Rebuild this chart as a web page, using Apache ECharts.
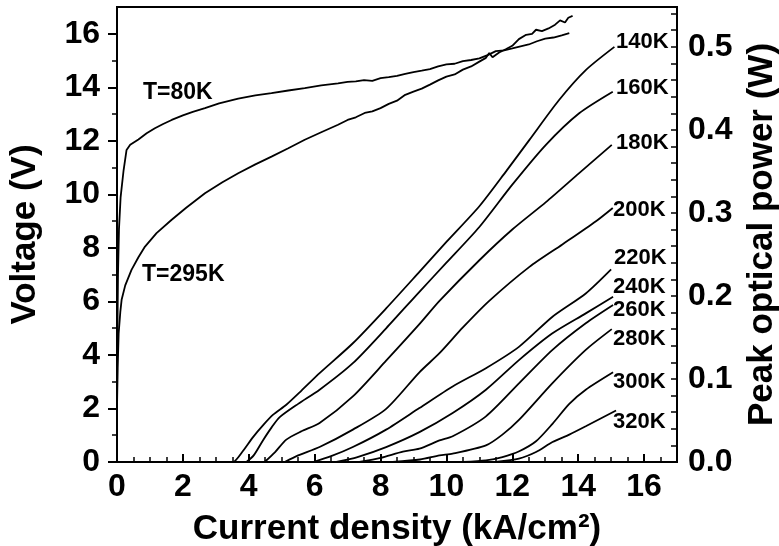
<!DOCTYPE html>
<html><head><meta charset="utf-8">
<script src="https://cdn.jsdelivr.net/npm/echarts@6/dist/echarts.min.js"></script>
<style>html,body{margin:0;padding:0;background:#fff}#c{width:779px;height:546px}</style>
</head><body><div id="c"></div>
<script>
// ---- axis ranges and ticks ----
const xMin = 0, xMax = 17;
const vMin = 0, vMax = 17;
const pMin = 0, pMax = 0.548;
const xLabelTicks = [0, 2, 4, 6, 8, 10, 12, 14, 16];
const xMinorTicks = [0.5, 1, 1.5, 2.5, 3, 3.5, 4.5, 5, 5.5, 6.5, 7, 7.5, 8.5, 9, 9.5, 10.5, 11, 11.5, 12.5, 13, 13.5, 14.5, 15, 15.5, 16.5];
const vLabelTicks = [0, 2, 4, 6, 8, 10, 12, 14, 16];
const vMinorTicks = [1, 3, 5, 7, 9, 11, 13, 15];
const pLabelTicks = [0, 0.1, 0.2, 0.3, 0.4, 0.5];
const pTicks = [0, 0.02, 0.04, 0.06, 0.08, 0.1, 0.12, 0.14, 0.16, 0.18, 0.2, 0.22, 0.24, 0.26, 0.28, 0.3, 0.32, 0.34, 0.36, 0.38, 0.4, 0.42, 0.44, 0.46, 0.48, 0.5, 0.52, 0.54];

// ---- voltage curves (left axis, V) ----
const v80K = [[0,2.0],[0.01,4.5],[0.03,7.0],[0.06,8.7],[0.11,9.9],[0.2,10.9],[0.29,11.66],[0.4,11.85],[0.65,12.05],[0.9,12.28],[1.15,12.47],[1.4,12.63],[1.66,12.78],[2.0,12.95],[2.3,13.08],[2.67,13.22],[3.1,13.4],[3.68,13.58],[4.2,13.7],[4.69,13.78],[5.2,13.88],[5.7,13.97],[6.2,14.07],[6.71,14.15],[7.0,14.2],[7.25,14.22],[7.5,14.27],[7.75,14.24],[8.0,14.34],[8.25,14.38],[8.5,14.43],[8.75,14.5],[9.0,14.57],[9.25,14.62],[9.5,14.68],[9.75,14.78],[10.0,14.86],[10.25,14.88],[10.5,14.98],[10.75,15.02],[11.0,15.08],[11.25,15.2],[11.5,15.35],[11.75,15.38],[12.0,15.45],[12.25,15.53],[12.5,15.6],[12.75,15.72],[13.0,15.82],[13.25,15.86],[13.5,15.94],[13.73,16.02]];
const v295K = [[0,2.0],[0.02,3.5],[0.05,4.8],[0.1,5.6],[0.14,6.06],[0.25,6.6],[0.44,7.18],[0.65,7.65],[0.85,8.05],[1.2,8.55],[1.66,9.05],[2.1,9.5],[2.67,10.04],[3.2,10.45],[3.68,10.79],[4.2,11.12],[4.69,11.41],[5.2,11.72],[5.7,12.04],[6.2,12.32],[6.71,12.6],[7.0,12.78],[7.25,12.88],[7.52,13.04],[7.75,13.1],[8.0,13.22],[8.25,13.38],[8.5,13.5],[8.75,13.72],[9.0,13.84],[9.25,13.95],[9.5,14.1],[9.75,14.26],[10.0,14.4],[10.25,14.48],[10.5,14.66],[10.75,14.78],[11.0,14.96],[11.2,15.1],[11.3,15.28],[11.4,15.12],[11.6,15.3],[11.8,15.42],[12.0,15.55],[12.2,15.8],[12.42,15.96],[12.6,16.0],[12.72,16.15],[12.9,16.1],[13.1,16.2],[13.3,16.34],[13.45,16.5],[13.6,16.42],[13.7,16.6],[13.83,16.67]];

// ---- peak optical power curves (right axis, W) ----
const p140K = [[3.3,0],[3.52,0],[3.8,0.012],[4.13,0.030],[4.45,0.045],[4.74,0.057],[5.14,0.069],[5.6,0.086],[6.15,0.107],[7.16,0.143],[8.17,0.185],[9.18,0.229],[10.0,0.265],[11.0,0.308],[11.81,0.350],[12.52,0.388],[13.42,0.436],[14.23,0.472],[15.1,0.500]];
const p160K = [[3.93,0],[4.15,0.008],[4.43,0.026],[4.7,0.042],[4.94,0.054],[5.5,0.070],[6.15,0.087],[7.16,0.119],[8.17,0.161],[9.18,0.205],[10.0,0.240],[11.0,0.283],[12.0,0.334],[13.02,0.382],[14.03,0.420],[15.05,0.446]];
const p180K = [[4.48,0],[4.8,0.012],[5.14,0.027],[5.6,0.037],[6.15,0.047],[7.16,0.079],[8.17,0.122],[9.18,0.166],[9.79,0.194],[11.0,0.243],[12.0,0.280],[13.02,0.313],[14.03,0.348],[15.02,0.382]];
const p200K = [[5.09,0],[5.5,0.008],[6.15,0.018],[7.16,0.039],[8.17,0.064],[9.18,0.108],[9.79,0.131],[10.5,0.162],[11.3,0.194],[12.52,0.235],[13.52,0.262],[14.54,0.290],[15.05,0.306]];
const p220K = [[5.95,0],[6.5,0.007],[7.16,0.018],[8.17,0.039],[9.18,0.065],[10.19,0.091],[11.2,0.113],[12.21,0.139],[13.22,0.175],[14.23,0.203],[15.0,0.232]];
const p240K = [[6.66,0],[7.3,0.006],[8.17,0.018],[9.18,0.036],[10.19,0.059],[11.2,0.087],[12.21,0.123],[13.22,0.155],[14.23,0.179],[15.06,0.199]];
const p260K = [[7.36,0],[8.0,0.005],[8.68,0.0125],[9.18,0.016],[9.79,0.026],[10.19,0.031],[11.2,0.055],[12.21,0.095],[13.22,0.135],[14.23,0.167],[15.06,0.189]];
const p280K = [[8.37,0],[9.2,0.003],[9.79,0.008],[10.19,0.010],[11.2,0.020],[11.7,0.033],[12.21,0.051],[13.22,0.095],[14.23,0.135],[15.02,0.160]];
const p300K = [[10.5,0],[11.2,0.002],[11.7,0.006],[12.21,0.013],[12.72,0.025],[13.22,0.046],[13.73,0.070],[14.23,0.087],[15.06,0.108]];
const p320K = [[11.5,0],[12.2,0.004],[12.72,0.012],[13.22,0.024],[13.73,0.033],[14.23,0.043],[15.15,0.062]];

// ---- annotations ----
const powerNames = ['140K','160K','180K','200K','220K','240K','260K','280K','300K','320K'];
const powerSeries = [p140K, p160K, p180K, p200K, p220K, p240K, p260K, p280K, p300K, p320K];
const powerLabelX = [15.15, 15.15, 15.15, 15.06, 15.09, 15.06, 15.06, 15.06, 15.06, 15.06];
const powerLabelY = [0.506, 0.4506, 0.3843, 0.3036, 0.2458, 0.2108, 0.1831, 0.1482, 0.0964, 0.0482];
const voltNames = ['T=80K', 'T=295K'];
const voltSeries = [v80K, v295K];
const voltLabelX = [0.79, 0.76];
const voltLabelY = [13.79, 7.0];

const FONT = 'Liberation Sans, Arial, sans-serif';
const black = '#000';

const lineStyle = { color: black, width: 1.8 };
const series = [];
voltSeries.forEach((d, i) => {
  series.push({
    type: 'line', data: d, xAxisIndex: 0, yAxisIndex: 0, showSymbol: false, symbol: 'none',
    lineStyle: lineStyle, smooth: false,
    markPoint: {
      symbol: 'circle', symbolSize: 0, silent: true,
      label: { show: true, position: [0, 0], align: 'left', verticalAlign: 'middle',
        formatter: '{b}', color: black, fontSize: 23, fontWeight: 'bold', fontFamily: FONT },
      data: [{ name: voltNames[i], coord: [voltLabelX[i], voltLabelY[i]] }]
    }
  });
});
powerSeries.forEach((d, i) => {
  series.push({
    type: 'line', data: d, xAxisIndex: 0, yAxisIndex: 1, showSymbol: false, symbol: 'none',
    lineStyle: lineStyle, smooth: 0.25,
    markPoint: {
      symbol: 'circle', symbolSize: 0, silent: true,
      label: { show: true, position: [0, 0], align: 'left', verticalAlign: 'middle',
        formatter: '{b}', color: black, fontSize: 22, fontWeight: 'bold', fontFamily: FONT },
      data: [{ name: powerNames[i], coord: [powerLabelX[i], powerLabelY[i]] }]
    }
  });
});

const tickLabel = { color: black, fontSize: 32, fontWeight: 'bold', fontFamily: FONT };
const nameStyle = { color: black, fontSize: 35, fontWeight: 'bold', fontFamily: FONT };
const axisLine = { show: true, onZero: false, lineStyle: { color: black, width: 2 } };

const option = {
  animation: false,
  backgroundColor: '#fff',
  grid: { left: 117, right: 102, top: 7, bottom: 84, show: true, borderColor: black, borderWidth: 2,
    backgroundColor: 'transparent', containLabel: false, outerBoundsMode: 'none' },
  xAxis: [
    { type: 'value', min: xMin, max: xMax, position: 'bottom', splitLine: { show: false },
      axisLine: axisLine,
      axisTick: { show: true, inside: true, length: 8, customValues: xLabelTicks, lineStyle: { color: black, width: 2 } },
      axisLabel: { ...tickLabel, margin: 9, customValues: xLabelTicks },
      name: 'Current density (kA/cm²)', nameLocation: 'middle', nameGap: 50, nameTextStyle: nameStyle },
    { type: 'value', min: xMin, max: xMax, position: 'bottom', splitLine: { show: false },
      axisLine: { show: false },
      axisTick: { show: true, inside: true, length: 5, customValues: xMinorTicks, lineStyle: { color: black, width: 1.5 } },
      axisLabel: { show: false } }
  ],
  yAxis: [
    { type: 'value', min: vMin, max: vMax, position: 'left', splitLine: { show: false },
      axisLine: axisLine,
      axisTick: { show: true, inside: false, length: 9, customValues: vLabelTicks, lineStyle: { color: black, width: 2 } },
      axisLabel: { ...tickLabel, margin: 17, customValues: vLabelTicks },
      name: 'Voltage (V)', nameLocation: 'middle', nameGap: 74, nameRotate: 90, nameTextStyle: nameStyle },
    { type: 'value', min: pMin, max: pMax, position: 'right', splitLine: { show: false },
      axisLine: axisLine,
      axisTick: { show: true, inside: true, length: 6, customValues: pTicks, lineStyle: { color: black, width: 1.5 } },
      axisLabel: { ...tickLabel, margin: 11, customValues: pLabelTicks, formatter: v => v.toFixed(1) },
      name: 'Peak optical power (W)', nameLocation: 'middle', nameGap: 68, nameRotate: 90, nameTextStyle: nameStyle },
    { type: 'value', min: vMin, max: vMax, position: 'left', splitLine: { show: false },
      axisLine: { show: false },
      axisTick: { show: true, inside: false, length: 5, customValues: vMinorTicks, lineStyle: { color: black, width: 1.5 } },
      axisLabel: { show: false } }
  ],
  series: series
};

const chart = echarts.init(document.getElementById('c'), null, { renderer: 'canvas' });
chart.setOption(option);
</script>
</body></html>
